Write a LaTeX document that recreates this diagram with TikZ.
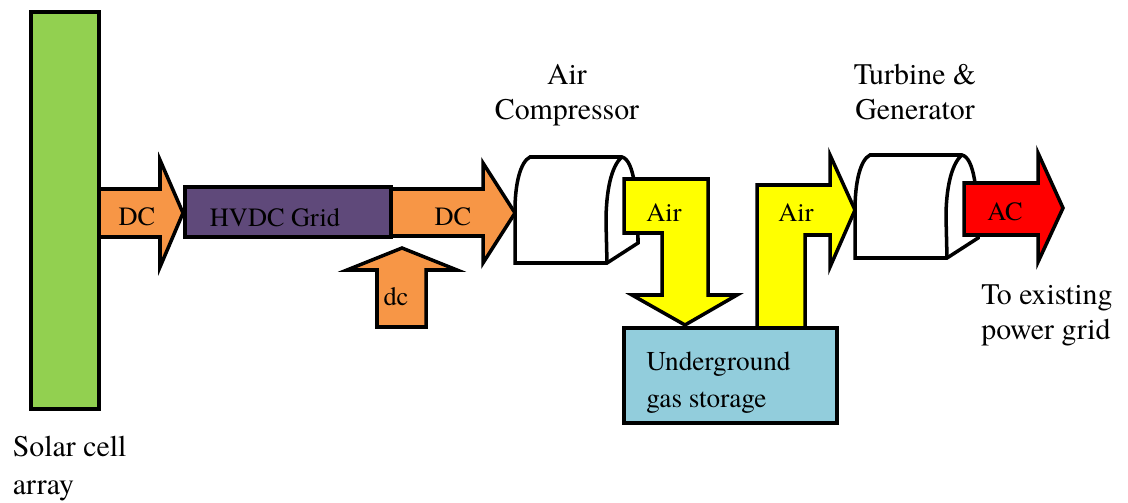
\documentclass[tikz,border=0pt]{standalone}
\usepackage{fontspec}
\setmainfont{TeX Gyre Termes}
\usepackage{tikz}
\definecolor{solargreen}{HTML}{92D050}
\definecolor{dcorange}{HTML}{F79646}
\definecolor{hvdcpurple}{HTML}{5F497A}
\definecolor{airyellow}{HTML}{FFFF00}
\definecolor{storeblue}{HTML}{92CDDC}
\definecolor{acred}{HTML}{FF0000}

\begin{document}
\begin{tikzpicture}[
    x=0.02cm, y=-0.02cm,
    blk/.style={draw, line width=2pt, fill=#1},
    outlbl/.style={font=\fontsize{17}{19.8}\selectfont, inner sep=0pt},
    inlbl/.style={font=\fontsize{15}{18}\selectfont, inner sep=0pt},
]
    \useasboundingbox (0,0) rectangle (1128,503);

    % Solar cell array
    \draw[blk=solargreen, line width=2.4pt] (31,12) rectangle (99,409);
    \node[outlbl, anchor=west, align=left] (solarlbl) at (12.5,468.5) {Solar cell\\[2.3pt]array};

    % DC into the grid
    \draw[blk=dcorange] (99,189) -- (160,189) -- (160,160) -- (183,213) -- (160,267) -- (160,237) -- (99,237) -- cycle;
    \node[inlbl] (dc1) at (137,217) {DC};

    % HVDC grid
    \draw[blk=hvdcpurple] (185,187) rectangle (391,237);
    \node[inlbl] (hvdc) at (275,218) {HVDC Grid};

    % DC to the compressor
    \draw[blk=dcorange] (391,189) -- (483,189) -- (483,163) -- (515,213) -- (483,263) -- (483,236) -- (391,236) -- cycle;
    \node[inlbl] (dc2) at (453,217) {DC};

    % dc feed from below
    \draw[blk=dcorange] (377,327) -- (377,270) -- (347,270) -- (402,248) -- (457,270) -- (426,270) -- (426,327) -- cycle;
    \node[inlbl] (dc3) at (396,297) {dc};

    % Air compressor
    \draw[blk=white] (530,157) -- (622,157) .. controls (634,160) and (638,195) .. (638,243) -- (607,263) -- (515,263) -- (515,210) .. controls (515,185) and (520,162) .. (530,157) -- cycle;
    \draw[line width=2pt] (622,157) .. controls (611,166) and (606,192) .. (606,222) -- (607,263);
    \node[outlbl, align=center] (complbl) at (567,95) {Air\\Compressor};

    % Air into storage
    \draw[blk=airyellow] (624,179) -- (708,179) -- (708,295) -- (737,295) -- (685,325) -- (632,295) -- (662,295) -- (662,233) -- (624,233) -- cycle;
    \node[inlbl] (air1) at (664,213) {Air};

    % Air out of storage
    \draw[blk=airyellow] (757,328) -- (757,185) -- (830,185) -- (830,155) -- (855,210) -- (830,267) -- (830,235) -- (805,235) -- (805,328) -- cycle;
    \node[inlbl] (air2) at (796,213) {Air};

    % Underground gas storage
    \draw[blk=storeblue] (624,328) rectangle (837,423);
    \node[anchor=west, align=left, inner sep=0pt, font=\fontsize{15.5}{21}\selectfont] (storage) at (646,383) {Underground\\gas storage};

    % Turbine and generator
    \draw[blk=white] (870,155) -- (962,155) .. controls (974,158) and (978,190) .. (978,238) -- (947,258) -- (855,258) -- (855,210) .. controls (855,183) and (860,160) .. (870,155) -- cycle;
    \draw[line width=2pt] (962,155) .. controls (951,164) and (946,190) .. (946,217) -- (947,258);
    \node[outlbl, align=center] (turblbl) at (915,92) {Turbine \&\\Generator};

    % AC out
    \draw[blk=acred] (964,183) -- (1038,183) -- (1038,153) -- (1063,208) -- (1038,262) -- (1038,235) -- (964,235) -- cycle;
    \node[inlbl] (ac) at (1005,212) {AC};
    \node[outlbl, anchor=west, align=left] (gridlbl) at (981,315) {To existing\\power grid};
\end{tikzpicture}
\end{document}
